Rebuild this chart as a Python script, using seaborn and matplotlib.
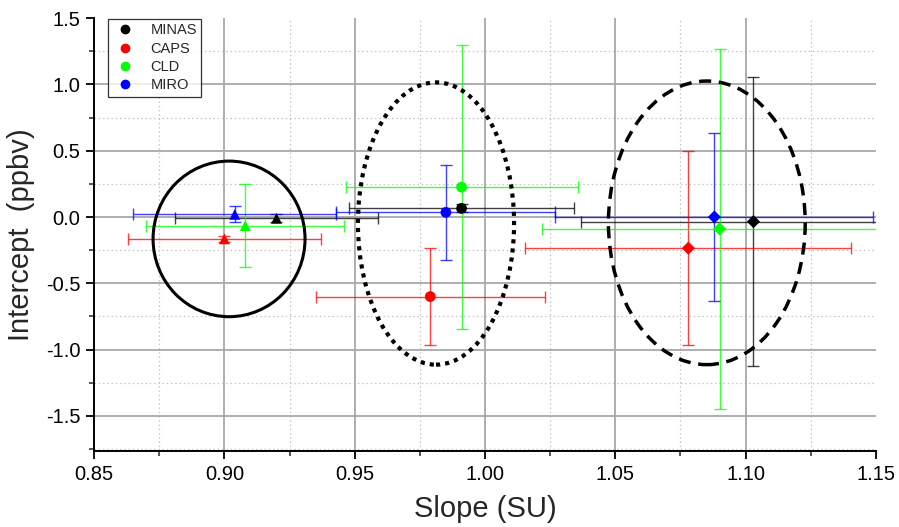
import matplotlib
matplotlib.use("Agg")
import matplotlib.pyplot as plt
import seaborn as sns
import pandas as pd
import numpy as np
from matplotlib.patches import Ellipse
from matplotlib.lines import Line2D
from matplotlib.ticker import MultipleLocator, FormatStrFormatter

# ---------------- data ----------------
instruments = ["MINAS", "CAPS", "CLD", "MIRO"]
colors = ["#000000", "#ff0000", "#00ff00", "#0000ff"]

# group 1 (triangles)
tri_slope = [0.920, 0.900, 0.908, 0.904]
tri_slope_err = [0.039, 0.037, 0.038, 0.039]
tri_int = [-0.010, -0.165, -0.065, 0.020]
tri_int_err = [0.030, 0.020, 0.315, 0.060]

# group 2 (circles)
cir_slope = [0.991, 0.979, 0.991, 0.985]
cir_slope_err = [0.043, 0.044, 0.0445, 0.042]
cir_int = [0.065, -0.600, 0.225, 0.035]
cir_int_err = [0.030, 0.363, 1.070, 0.357]

# group 3 (diamonds)
dia_slope = [1.103, 1.078, 1.090, 1.088]
dia_slope_err = [0.066, 0.0625, 0.068, 0.061]
dia_int = [-0.035, -0.235, -0.090, 0.000]
dia_int_err = [1.090, 0.733, 1.360, 0.635]

# grouping ellipses: centre x, centre y, width, height
ell_x = [0.9018, 0.9812, 1.0851]
ell_y = [-0.165, -0.049, -0.044]
ell_w = [0.0583, 0.0599, 0.0755]
ell_h = [1.173, 2.128, 2.138]

x_ticks = [0.85, 0.90, 0.95, 1.00, 1.05, 1.10, 1.15]
y_ticks = [-1.5, -1.0, -0.5, 0.0, 0.5, 1.0, 1.5]

# ---------------- style ----------------
sns.set_theme(style="white")
plt.rcParams["font.family"] = ["Liberation Sans", "DejaVu Sans"]
plt.rcParams["axes.unicode_minus"] = False

fig = plt.figure(figsize=(8.99, 5.27), dpi=100)
ax = fig.add_axes([0.1046, 0.1442, 0.8698, 0.8216])

ax.set_xlim(0.85, 1.15)
ax.set_ylim(-1.764, 1.5)

# manual grid (no lines on the upper/right limits)
for v in np.arange(0.875, 1.15, 0.05):
    ax.axvline(v, color="#c4c4c4", lw=0.9, ls=(0, (1.2, 2.2)), zorder=0)
for v in np.arange(-1.75, 1.5, 0.5):
    ax.axhline(v, color="#c4c4c4", lw=0.9, ls=(0, (1.2, 2.2)), zorder=0)
for v in x_ticks[1:-1]:
    ax.axvline(v, color="#a8a8a8", lw=1.3, zorder=0)
for v in y_ticks[:-1]:
    ax.axhline(v, color="#a8a8a8", lw=1.3, zorder=0)

groups = [
    ("^", tri_slope, tri_slope_err, tri_int, tri_int_err),
    ("o", cir_slope, cir_slope_err, cir_int, cir_int_err),
    ("D", dia_slope, dia_slope_err, dia_int, dia_int_err),
]

palette = dict(zip(instruments, colors))
for marker, xs, xe, ys, ye in groups:
    df = pd.DataFrame({"Slope": xs, "Intercept": ys, "Instrument": instruments})
    for i in range(len(instruments)):
        ax.errorbar(xs[i], ys[i], xerr=xe[i], yerr=ye[i], fmt="none",
                    ecolor=colors[i], elinewidth=1.0, capsize=4, capthick=1.0,
                    alpha=0.75, zorder=2)
    sns.scatterplot(data=df, x="Slope", y="Intercept", hue="Instrument",
                    palette=palette, marker=marker, s=60 if marker != "D" else 45,
                    edgecolor="none", legend=False, ax=ax, zorder=3)

styles = ["-", (0, (1, 1.2)), (0, (3.5, 2.2))]
widths = [2.2, 3.0, 2.5]
for cx, cy, w, h, ls, lw in zip(ell_x, ell_y, ell_w, ell_h, styles, widths):
    ax.add_patch(Ellipse((cx, cy), w, h, fill=False, edgecolor="black",
                         linestyle=ls, linewidth=lw, zorder=4))

# axes decorations
ax.set_xticks(x_ticks)
ax.set_yticks(y_ticks)
ax.xaxis.set_minor_locator(MultipleLocator(0.025))
ax.yaxis.set_minor_locator(MultipleLocator(0.25))
ax.xaxis.set_major_formatter(FormatStrFormatter("%.2f"))
ax.yaxis.set_major_formatter(FormatStrFormatter("%.1f"))
ax.tick_params(which="major", direction="out", length=6, width=1.3,
               labelsize=14.5, colors="black", left=True, bottom=True, pad=4)
ax.tick_params(which="minor", direction="out", length=3.5, width=1.1,
               left=True, bottom=True)
for s in ["top", "right"]:
    ax.spines[s].set_visible(False)
for s in ["left", "bottom"]:
    ax.spines[s].set_color("black")
    ax.spines[s].set_linewidth(1.4)

ax.set_xlabel("Slope (SU)", fontsize=21, labelpad=8)
ax.set_ylabel("Intercept  (ppbv)", fontsize=21, labelpad=8)

handles = [Line2D([], [], marker="o", color=c, ls="none", markersize=6.0)
           for c in colors]
leg = ax.legend(handles, instruments, loc="upper left",
                bbox_to_anchor=(0.018, 0.998), borderaxespad=0,
                fontsize=10.5, frameon=True, fancybox=False,
                labelspacing=0.3, handletextpad=0.9, handlelength=1.7,
                borderpad=0.3)
leg.get_frame().set_edgecolor("black")
leg.get_frame().set_linewidth(0.9)
leg.set_zorder(5)

fig.savefig("out.png", dpi=100)
